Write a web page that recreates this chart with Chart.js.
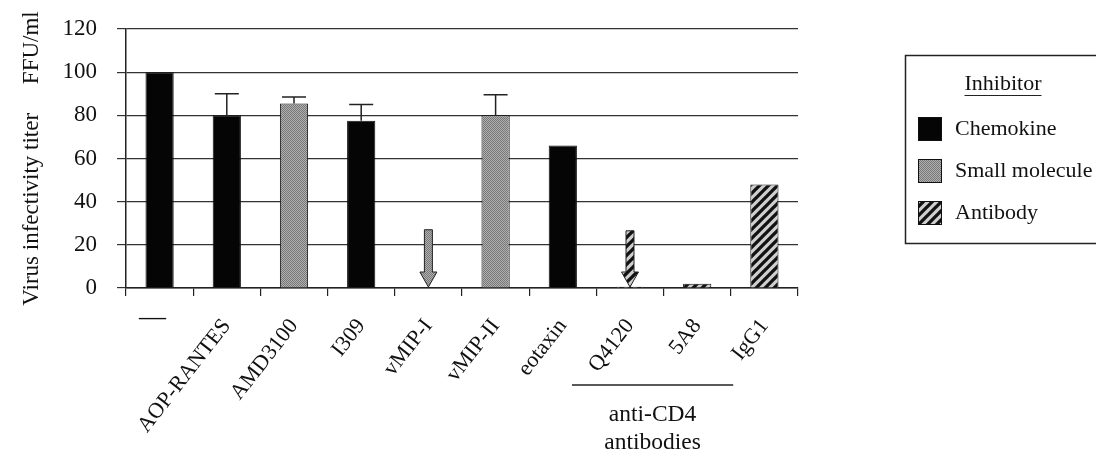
<!DOCTYPE html>
<html>
<head>
<meta charset="utf-8">
<script src="https://cdn.jsdelivr.net/npm/chart.js@4.4.1/dist/chart.umd.min.js"></script>
<style>
  html, body { margin: 0; padding: 0; background: #fff; }
  #wrap { width: 1096px; height: 449px; }
</style>
</head>
<body>
<div id="wrap"><canvas id="c" width="1096" height="449"></canvas></div>
<script>
// ---- data ----
const categories = ['—', 'AOP-RANTES', 'AMD3100', 'I309', 'vMIP-I', 'vMIP-II', 'eotaxin', 'Q4120', '5A8', 'IgG1'];
const inhibitorTypes = ['Chemokine', 'Chemokine', 'Small molecule', 'Chemokine', 'Small molecule', 'Small molecule', 'Chemokine', 'Antibody', 'Antibody', 'Antibody'];
const titerValues = [100, 80, 85.5, 77.5, 0, 80, 66, 0.6, 2, 48];
const errorTops = [null, 90, 88.5, 85, null, 89.5, null, null, null, null];
const arrowTops = [null, null, null, null, 27, null, null, 26.5, null, null];
const yTickValues = [0, 20, 40, 60, 80, 100, 120];
const legendTitle = 'Inhibitor';
const legendItems = ['Chemokine', 'Small molecule', 'Antibody'];
const groupMembers = ['Q4120', '5A8'];
const groupLabel = ['anti-CD4', 'antibodies'];
const yTitle = 'Virus infectivity titer     FFU/ml';

// ---- fills ----
const FONT = "'Liberation Serif', 'Times New Roman', serif";
function makeStipple() {
  const c = document.createElement('canvas'); c.width = 2; c.height = 2;
  const g = c.getContext('2d');
  g.fillStyle = '#b0b0b0'; g.fillRect(0, 0, 2, 2);
  g.fillStyle = '#777777'; g.fillRect(0, 0, 1, 1); g.fillRect(1, 1, 1, 1);
  return g.createPattern(c, 'repeat');
}
function makeHatch() {
  const s = 9;
  const c = document.createElement('canvas'); c.width = s; c.height = s;
  const g = c.getContext('2d');
  g.fillStyle = '#cfcfcf'; g.fillRect(0, 0, s, s);
  g.strokeStyle = '#111'; g.lineWidth = 3.3;
  g.beginPath();
  g.moveTo(-s, s); g.lineTo(s, -s);
  g.moveTo(0, 2 * s); g.lineTo(2 * s, 0);
  g.moveTo(0, s); g.lineTo(s, 0);
  g.stroke();
  return g.createPattern(c, 'repeat');
}
const fills = {
  'Chemokine': '#050505',
  'Small molecule': makeStipple(),
  'Antibody': makeHatch()
};

// ---- annotation plugin ----
const annot = {
  id: 'annot',
  afterDatasetsDraw(chart) {
    const ctx = chart.ctx;
    const xs = chart.scales.x, ys = chart.scales.y;
    const meta = chart.getDatasetMeta(0);
    ctx.save();
    // error bars
    ctx.strokeStyle = '#222'; ctx.lineWidth = 1.5;
    errorTops.forEach((e, i) => {
      if (e == null) return;
      const x = meta.data[i].x;
      const yb = ys.getPixelForValue(titerValues[i]);
      const yt = ys.getPixelForValue(e);
      ctx.beginPath();
      ctx.moveTo(x, yb); ctx.lineTo(x, yt);
      ctx.moveTo(x - 12, yt); ctx.lineTo(x + 12, yt);
      ctx.stroke();
    });
    // arrows
    arrowTops.forEach((a, i) => {
      if (a == null) return;
      const x = xs.getPixelForValue(i);
      const top = ys.getPixelForValue(a);
      const tip = ys.getPixelForValue(0) - 1;
      const headH = 15, sw = 4, hw = 8.5;
      ctx.beginPath();
      ctx.moveTo(x - sw, top);
      ctx.lineTo(x + sw, top);
      ctx.lineTo(x + sw, tip - headH);
      ctx.lineTo(x + hw, tip - headH);
      ctx.lineTo(x, tip);
      ctx.lineTo(x - hw, tip - headH);
      ctx.lineTo(x - sw, tip - headH);
      ctx.closePath();
      ctx.fillStyle = fills[inhibitorTypes[i]];
      ctx.fill();
      ctx.strokeStyle = '#222'; ctx.lineWidth = 1;
      ctx.stroke();
    });
    ctx.restore();
  },
  afterDraw(chart) {
    const ctx = chart.ctx;
    const xs = chart.scales.x;
    ctx.save();
    ctx.fillStyle = '#111';
    // first category label (horizontal dash)
    ctx.font = '27px ' + FONT;
    ctx.textAlign = 'center'; ctx.textBaseline = 'middle';
    ctx.fillText(categories[0], xs.getPixelForValue(0) - 7, 318);
    // group bracket under anti-CD4 antibodies
    const i0 = categories.indexOf(groupMembers[0]);
    const i1 = categories.indexOf(groupMembers[groupMembers.length - 1]);
    const gl = xs.getPixelForValue(i0) - 58, gr = xs.getPixelForValue(i1) + 36;
    ctx.strokeStyle = '#222'; ctx.lineWidth = 1.5;
    ctx.beginPath(); ctx.moveTo(gl, 385); ctx.lineTo(gr, 385); ctx.stroke();
    ctx.font = '23.5px ' + FONT;
    const gc = (gl + gr) / 2;
    ctx.fillText(groupLabel[0], gc, 415);
    ctx.fillText(groupLabel[1], gc, 443);
    // legend
    ctx.lineWidth = 1.5; ctx.strokeStyle = '#222';
    ctx.strokeRect(905.5, 55.5, 200, 188);
    ctx.font = '22px ' + FONT;
    ctx.textAlign = 'center';
    ctx.fillText(legendTitle, 1003, 84);
    const tw = ctx.measureText(legendTitle).width;
    ctx.lineWidth = 1;
    ctx.beginPath(); ctx.moveTo(1003 - tw / 2, 95.5); ctx.lineTo(1003 + tw / 2, 95.5); ctx.stroke();
    const rows = [117, 159, 201];
    ctx.textAlign = 'left';
    legendItems.forEach((name, k) => {
      const y = rows[k];
      ctx.fillStyle = fills[name];
      ctx.fillRect(918, y, 24, 24);
      ctx.strokeStyle = '#111'; ctx.lineWidth = 1;
      ctx.strokeRect(918.5, y + 0.5, 23, 23);
      ctx.fillStyle = '#111';
      ctx.fillText(name, 955, y + 12);
    });
    ctx.restore();
  }
};

new Chart(document.getElementById('c'), {
  type: 'bar',
  data: {
    labels: categories,
    datasets: [{
      label: 'Virus infectivity titer',
      data: titerValues,
      backgroundColor: inhibitorTypes.map(t => fills[t]),
      borderColor: '#111',
      borderWidth: 1,
      barPercentage: 0.42,
      categoryPercentage: 1
    }]
  },
  options: {
    responsive: false,
    animation: false,
    devicePixelRatio: 1,
    layout: { padding: { top: 29, right: 298, left: 0, bottom: 0 } },
    plugins: { legend: { display: false }, tooltip: { enabled: false } },
    scales: {
      x: {
        grid: { offset: true, drawOnChartArea: false, tickLength: 8, color: '#222', lineWidth: 1.2 },
        border: { color: '#222', width: 1.5 },
        ticks: {
          autoSkip: false, maxRotation: 52, minRotation: 52, padding: 18,
          color: '#111', font: { family: FONT, size: 22 },
          callback: (v, i) => (i === 0 ? '' : categories[i])
        },
        afterFit: s => { s.height = 161; s.paddingLeft = 0; s.paddingRight = 0; }
      },
      y: {
        min: 0, max: 120,
        afterBuildTicks: s => { s.ticks = yTickValues.map(v => ({ value: v })); },
        grid: { color: '#333', tickLength: 9, lineWidth: 1.2 },
        border: { color: '#222', width: 1.5 },
        ticks: { padding: 20, color: '#111', font: { family: FONT, size: 23 } },
        title: { display: true, text: yTitle, color: '#111', font: { family: FONT, size: 23 }, padding: { top: 18, bottom: 0 } },
        afterFit: s => { s.width = 126; s.paddingTop = 0; s.paddingBottom = 0; }
      }
    }
  },
  plugins: [annot]
});
</script>
</body>
</html>
